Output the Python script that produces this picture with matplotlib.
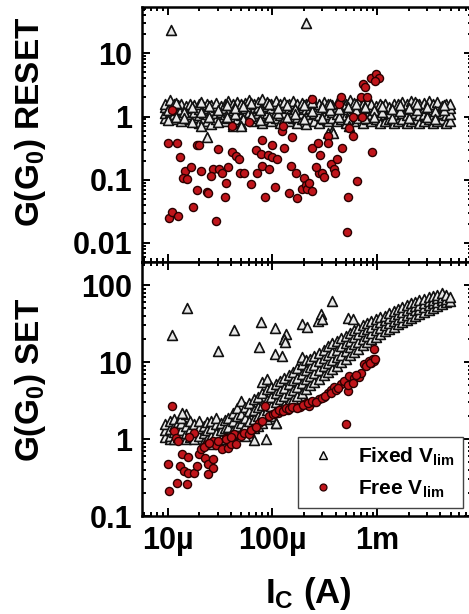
import numpy as np
import matplotlib
matplotlib.use("Agg")
import matplotlib.pyplot as plt
from matplotlib.lines import Line2D

# ── data (A, G0) ──────────────────────────────────────────────────────────
# RESET, fixed V_lim: dense band, listed column by column
RESET_FIXED_BAND = [
    (9.5e-6, [0.95, 1.15, 1.4, 1.6]), (1.05e-5, [1.0, 1.2, 1.45, 1.8]),
    (1.15e-5, [0.9, 1.1, 1.3, 1.55]), (1.25e-5, [1.0, 1.25, 1.5]),
    (1.35e-5, [0.85, 1.05, 1.3, 1.6]), (1.5e-5, [0.95, 1.2, 1.45]),
    (1.65e-5, [0.9, 1.1, 1.35, 1.6]), (1.8e-5, [1.0, 1.2, 1.5]),
    (2.0e-5, [0.8, 1.05, 1.3, 1.55]), (2.2e-5, [0.95, 1.15, 1.4]),
    (2.4e-5, [0.85, 1.1, 1.35, 1.6]), (2.6e-5, [0.75, 1.0, 1.25, 1.5]),
    (2.9e-5, [0.9, 1.15, 1.4, 1.65]), (3.2e-5, [1.0, 1.2, 1.45]),
    (3.5e-5, [0.85, 1.1, 1.35, 1.6]), (3.8e-5, [0.95, 1.2, 1.5, 1.75]),
    (4.2e-5, [0.75, 1.0, 1.25, 1.55]), (4.6e-5, [0.9, 1.15, 1.4, 1.7]),
    (5.0e-5, [0.75, 1.05, 1.3, 1.6]), (5.5e-5, [0.9, 1.1, 1.35, 1.65]),
    (6.0e-5, [0.95, 1.2, 1.45, 1.8]), (6.6e-5, [0.85, 1.1, 1.35, 1.6]),
    (7.3e-5, [0.95, 1.15, 1.4, 1.7]), (8.0e-5, [0.8, 1.05, 1.3, 1.9]),
    (8.8e-5, [0.9, 1.15, 1.45, 1.7]), (9.7e-5, [0.85, 1.1, 1.35, 1.6]),
    (1.07e-4, [0.95, 1.2, 1.5, 1.75]), (1.18e-4, [0.8, 1.05, 1.3, 1.55]),
    (1.3e-4, [0.9, 1.15, 1.4, 1.7]), (1.43e-4, [0.85, 1.1, 1.35, 1.6]),
    (1.57e-4, [0.95, 1.2, 1.45, 1.75]), (1.73e-4, [0.8, 1.0, 1.3, 1.55]),
    (1.9e-4, [0.9, 1.15, 1.4, 1.65]), (2.1e-4, [0.75, 1.05, 1.3, 1.6]),
    (2.3e-4, [0.9, 1.1, 1.35, 1.8]), (2.5e-4, [0.85, 1.15, 1.4, 1.65]),
    (2.8e-4, [0.8, 1.05, 1.3, 1.55]), (3.1e-4, [0.9, 1.15, 1.45, 1.7]),
    (3.4e-4, [0.85, 1.1, 1.35, 1.6]), (3.7e-4, [0.6, 0.95, 1.2, 1.5]),
    (4.1e-4, [0.85, 1.1, 1.4, 1.65]), (4.5e-4, [0.9, 1.15, 1.45, 1.75]),
    (5.0e-4, [0.8, 1.05, 1.3, 1.6]), (5.5e-4, [0.9, 1.2, 1.5, 1.8]),
    (6.0e-4, [0.85, 1.1, 1.35, 1.65]), (6.6e-4, [0.95, 1.2, 1.45, 1.7]),
    (7.3e-4, [0.8, 1.05, 1.3, 1.6]), (8.0e-4, [0.9, 1.15, 1.4, 1.7]),
    (8.8e-4, [0.85, 1.1, 1.35, 1.6]), (9.7e-4, [0.9, 1.2, 1.45]),
    (1.07e-3, [0.8, 1.05, 1.3, 1.55]), (1.18e-3, [0.85, 1.1, 1.35, 1.6]),
    (1.3e-3, [0.9, 1.15, 1.4]), (1.43e-3, [0.8, 1.05, 1.3, 1.55]),
    (1.57e-3, [0.85, 1.1, 1.35, 1.6]), (1.73e-3, [0.9, 1.15, 1.45, 1.7]),
    (1.9e-3, [0.8, 1.05, 1.3, 1.6]), (2.1e-3, [0.85, 1.1, 1.4, 1.75]),
    (2.3e-3, [0.9, 1.15, 1.45, 1.7]), (2.5e-3, [0.8, 1.05, 1.3, 1.6]),
    (2.8e-3, [0.85, 1.1, 1.35, 1.65]), (3.1e-3, [0.9, 1.2, 1.45, 1.75]),
    (3.4e-3, [0.8, 1.05, 1.3, 1.55]), (3.7e-3, [0.85, 1.1, 1.4, 1.7]),
    (4.1e-3, [0.9, 1.15, 1.45]), (4.5e-3, [0.8, 1.05, 1.3, 1.6]),
    (4.9e-3, [0.85, 1.1, 1.35, 1.55]),
]
# second, staggered set of RESET fixed-V_lim columns
RESET_FIXED_BAND_B = [
    (1.0e-5, [1.25, 0.88]), (1.2e-5, [1.62, 1.0]), (1.42e-5, [1.18, 0.95]),
    (1.72e-5, [1.42, 0.83]), (2.1e-5, [1.2, 1.68]), (2.5e-5, [0.98, 1.45]),
    (3.05e-5, [1.28, 0.83]), (3.65e-5, [1.52, 0.98]), (4.4e-5, [1.08, 1.35]),
    (5.25e-5, [1.48, 0.92]), (6.3e-5, [1.02, 1.62]), (7.6e-5, [1.25, 0.88]),
    (9.2e-5, [1.55, 1.0]), (1.12e-4, [1.15, 1.38]), (1.37e-4, [0.98, 1.52]),
    (1.65e-4, [1.3, 1.08]), (2.0e-4, [1.5, 0.92]), (2.4e-4, [1.22, 1.72]),
    (2.95e-4, [0.95, 1.4]), (3.55e-4, [1.25, 1.55]), (4.3e-4, [1.0, 1.3]),
    (5.25e-4, [1.4, 0.92]), (6.3e-4, [1.25, 1.55]), (7.6e-4, [0.95, 1.4]),
    (9.2e-4, [1.28, 1.0]), (1.12e-3, [1.2, 1.45]), (1.37e-3, [0.95, 1.3]),
    (1.65e-3, [1.22, 1.52]), (2.0e-3, [0.95, 1.35]), (2.4e-3, [1.25, 1.58]),
    (2.95e-3, [1.0, 1.42]), (3.55e-3, [1.22, 0.92]), (4.3e-3, [1.25, 1.5]),
]
reset_fixed_extra_x = [1.07e-5, 2.1e-4, 2.4e-5, 2.1e-5, 4.2e-5, 5.0e-5, 3.4e-4, 3.8e-4, 5.4e-4]
reset_fixed_extra_y = [23, 30, 0.48, 0.7, 0.7, 0.7, 0.55, 0.55, 0.7]

reset_free_x = [1.1e-5, 1.0e-5, 1.22e-5, 1.3e-5, 1.48e-5, 1.39e-5, 1.52e-5, 1.69e-5,
                1.04e-5, 1.09e-5, 1.25e-5, 1.73e-5, 1.89e-5, 1.89e-5, 2.0e-5, 2.1e-5,
                2.35e-5, 2.45e-5, 2.7e-5, 2.6e-5, 2.9e-5, 3.0e-5, 3.1e-5, 3.3e-5,
                3.5e-5, 3.6e-5, 3.8e-5, 4.1e-5, 4.15e-5, 4.5e-5, 4.75e-5, 4.85e-5,
                5.4e-5, 6.3e-5, 6.0e-5, 7.0e-5, 7.2e-5, 7.8e-5, 8.0e-5, 8.4e-5,
                8.0e-5, 9.0e-5, 9.2e-5, 9.8e-5, 1.0e-4, 1.05e-4, 1.1e-4, 1.22e-4,
                1.25e-4, 1.3e-4, 1.45e-4, 1.5e-4, 1.55e-4, 1.67e-4, 1.72e-4, 1.9e-4,
                2.0e-4, 2.1e-4, 2.15e-4, 2.25e-4, 2.4e-4, 2.4e-4, 2.4e-4, 2.7e-4,
                2.85e-4, 2.75e-4, 3.0e-4, 3.35e-4, 3.35e-4, 3.6e-4, 3.9e-4, 3.95e-4,
                4.15e-4, 4.3e-4, 4.5e-4, 4.6e-4, 5.1e-4, 5.2e-4, 5.4e-4, 5.8e-4,
                5.8e-4, 6.4e-4, 7.0e-4, 7.2e-4, 7.3e-4, 7.6e-4, 8.0e-4, 8.7e-4,
                8.9e-4, 9.8e-4, 1.04e-3, 9.6e-4, 2.6e-4, 3.1e-4]
reset_free_y = [1.29, 0.376, 0.376, 0.226, 0.136, 0.106, 0.102, 0.158,
                0.0247, 0.031, 0.027, 0.037, 0.068, 0.36, 0.36, 0.136,
                0.063, 0.061, 0.15, 0.113, 0.022, 0.31, 0.15, 0.126,
                0.053, 0.088, 0.158, 0.70, 0.27, 0.235, 0.21, 0.13,
                0.126, 0.085, 0.83, 0.30, 0.126, 0.26, 0.163, 0.053,
                0.43, 0.25, 0.146, 0.35, 0.226, 0.076, 0.21, 0.60,
                0.70, 0.32, 0.061, 0.163, 0.47, 0.126, 0.051, 0.071,
                0.106, 0.082, 0.071, 0.088, 0.066, 0.32, 1.9, 0.376,
                0.25, 0.126, 0.126, 0.50, 0.376, 0.18, 0.15, 0.126,
                0.21, 1.6, 2.0, 0.32, 0.015, 0.053, 0.65, 0.50,
                1.0, 0.095, 2.0, 1.0, 3.3, 2.9, 2.0, 4.1,
                0.27, 4.7, 4.1, 3.7, 0.16, 0.11]

# SET, fixed V_lim: band rising with I_C, listed column by column
SET_FIXED_BAND = [
    (9.5e-6, [1.05, 1.3, 1.55]), (1.05e-5, [1.0, 1.1, 1.35, 1.7]),
    (1.15e-5, [1.0, 1.25, 1.5, 1.8]), (1.25e-5, [1.05, 1.4, 1.65]),
    (1.35e-5, [1.1, 1.3, 1.6, 1.9]), (1.5e-5, [1.0, 1.2, 1.5, 2.1]),
    (1.65e-5, [1.05, 1.35, 1.7]), (1.8e-5, [1.0, 1.25, 1.55]),
    (2.0e-5, [1.1, 1.4, 1.7]), (2.2e-5, [0.95, 1.2, 1.5]),
    (2.4e-5, [1.0, 1.3, 1.65]), (2.6e-5, [0.85, 1.1, 1.4, 1.7]),
    (2.9e-5, [0.95, 1.2, 1.55, 1.85]), (3.2e-5, [1.0, 1.3, 1.6]),
    (3.5e-5, [1.05, 1.4, 1.75]), (3.8e-5, [1.1, 1.45, 1.9]),
    (4.2e-5, [1.0, 1.3, 1.7, 2.2]), (4.6e-5, [1.15, 1.5, 2.0, 2.5]),
    (5.0e-5, [1.2, 1.6, 2.1, 3.1]), (5.5e-5, [1.1, 1.5, 1.9, 2.6]),
    (6.0e-5, [1.3, 1.7, 2.3, 2.9]), (6.6e-5, [1.4, 1.8, 2.4, 3.3]),
    (7.3e-5, [1.5, 2.0, 2.6, 3.5]), (8.0e-5, [1.6, 2.1, 2.8, 4.0, 5.5]),
    (8.8e-5, [1.8, 2.4, 3.2, 4.5, 6.0]), (9.7e-5, [2.0, 2.7, 3.5, 4.8]),
    (1.07e-4, [1.6, 2.3, 3.0, 4.0, 5.2]), (1.18e-4, [2.5, 3.3, 4.3, 5.6]),
    (1.3e-4, [2.8, 3.6, 4.6, 6.2]), (1.43e-4, [3.0, 4.0, 5.2, 6.8]),
    (1.57e-4, [3.3, 4.4, 5.8, 7.5]), (1.73e-4, [3.6, 4.8, 6.3, 8.5]),
    (1.9e-4, [4.0, 5.3, 7.0, 9.5, 11.5]), (2.1e-4, [4.5, 6.0, 7.8, 10.5]),
    (2.3e-4, [5.0, 6.6, 8.6, 11]), (2.5e-4, [5.5, 7.2, 9.3, 12]),
    (2.8e-4, [6.0, 8.0, 10.2, 13]), (3.1e-4, [6.8, 8.8, 11.2, 14.5]),
    (3.4e-4, [7.5, 9.7, 12.3, 16]), (3.7e-4, [8.2, 10.5, 13.5, 17.5]),
    (4.1e-4, [9.0, 11.5, 14.5, 19]), (4.5e-4, [10, 12.5, 16, 20.5]),
    (5.0e-4, [11, 14, 17.5, 22]), (5.5e-4, [12.5, 15.5, 19, 24]),
    (6.0e-4, [13.5, 17, 21, 26]), (6.6e-4, [15, 18.5, 23, 28]),
    (7.3e-4, [16.5, 20, 25, 30]), (8.0e-4, [18, 22, 27, 32]),
    (8.8e-4, [20, 24, 29, 34]), (9.7e-4, [21, 26, 31, 36]),
    (1.07e-3, [23, 28, 33, 38]), (1.18e-3, [25, 30, 35, 40]),
    (1.3e-3, [27, 32, 37, 43]), (1.43e-3, [29, 34, 40, 46]),
    (1.57e-3, [31, 36, 42, 49]), (1.73e-3, [33, 39, 45, 52]),
    (1.9e-3, [35, 41, 48, 55]), (2.1e-3, [37, 44, 51, 58]),
    (2.3e-3, [40, 47, 54, 61]), (2.5e-3, [42, 49, 56, 64]),
    (2.8e-3, [45, 52, 59, 67]), (3.1e-3, [48, 55, 62, 70]),
    (3.4e-3, [51, 58, 65, 72]), (3.7e-3, [54, 61, 68, 75]),
    (4.1e-3, [57, 64, 71, 78]), (4.5e-3, [60, 67, 74]),
    (4.9e-3, [62, 70]),
]
set_fixed_extra_x = [1.09e-5, 1.52e-5, 3.0e-5, 4.3e-5, 7.7e-5, 7.5e-5, 1.05e-4, 1.05e-4,
                     1.22e-4, 1.35e-4, 1.3e-4, 1.33e-4, 1.9e-4, 2.15e-4, 2.7e-4, 2.9e-4,
                     2.95e-4, 3.7e-4, 5.2e-4, 5.8e-4, 6.7e-5, 8.6e-5, 1.07e-4, 1.36e-5]
set_fixed_extra_y = [22.4, 50, 14, 26, 33, 15.6, 27.6, 12.7,
                     12, 23, 20, 18, 31, 28.5, 34, 42,
                     36, 63, 37, 36, 0.98, 1.0, 1.6, 2.2]

set_free_x = [1.1e-5, 1.02e-5, 1.04e-5, 1.22e-5, 1.52e-5, 1.14e-5, 1.2e-5, 1.77e-5,
              1.36e-5, 1.58e-5, 1.3e-5, 1.42e-5, 1.58e-5, 1.77e-5, 1.89e-5, 1.98e-5,
              2.1e-5, 2.25e-5, 2.45e-5, 2.74e-5, 2.45e-5, 2.74e-5, 2.35e-5, 2.74e-5,
              2.9e-5, 3.27e-5, 3.6e-5, 3.8e-5, 4.0e-5, 4.5e-5, 4.3e-5, 5.0e-5,
              5.4e-5, 6.0e-5, 6.7e-5, 7.5e-5, 8.4e-5, 8.0e-5, 9.2e-5, 1.02e-4,
              1.12e-4, 1.22e-4, 1.4e-4, 1.62e-4, 1.85e-4, 2.1e-4, 2.25e-4, 2.5e-4,
              2.8e-4, 3.1e-4, 3.4e-4, 3.65e-4, 3.9e-4, 4.5e-4, 4.8e-4, 5.3e-4,
              5.0e-4, 5.4e-4, 6.0e-4, 6.7e-4, 7.0e-4, 7.5e-4, 8.3e-4, 8.8e-4,
              9.4e-4, 9.0e-4, 9.2e-4, 1.05e-4, 1.15e-4, 1.25e-4, 1.35e-4, 1.45e-4,
              1.55e-4, 1.7e-4, 1.95e-4, 2.2e-4, 2.4e-4, 2.6e-4, 3.0e-4, 3.2e-4,
              3.6e-4, 4.0e-4, 4.2e-4, 5.2e-4, 5.8e-4, 6.2e-4, 7.8e-4, 8.6e-4,
              9.6e-4, 2.2e-5, 2.5e-5, 3.0e-5, 3.6e-5, 4.0e-5, 6.2e-5, 7.0e-5,
              1.6e-5, 1.25e-5]
set_free_y = [2.7, 0.47, 0.21, 0.27, 0.26, 1.27, 1.03, 1.2,
              0.64, 0.58, 0.45, 0.38, 0.36, 0.36, 0.45, 0.64,
              0.74, 0.57, 0.47, 0.42, 0.35, 0.55, 0.86, 0.94,
              0.84, 0.74, 1.03, 0.76, 0.86, 0.86, 1.16, 1.1,
              1.2, 1.15, 1.39, 1.6, 2.7, 1.7, 2.0, 2.1,
              2.15, 2.3, 2.4, 2.6, 2.6, 2.9, 2.7, 3.0,
              3.3, 3.5, 3.95, 4.4, 4.7, 5.2, 5.6, 4.2,
              1.56, 6.6, 6.2, 6.4, 7.3, 9.4, 10.3, 9.6,
              15, 11, 10.2, 2.2, 2.4, 2.3, 2.5, 2.45,
              2.6, 2.55, 2.75, 2.9, 3.1, 3.0, 3.4, 3.6,
              4.0, 4.3, 4.6, 5.0, 5.4, 6.8, 8.8, 9.8,
              11, 0.8, 0.9, 0.95, 1.0, 1.05, 1.3, 1.45,
              1.05, 0.95]

XTICKS = [1e-5, 1e-4, 1e-3]
XTICKLABELS = ["10µ", "100µ", "1m"]
RESET_TICKS = [0.01, 0.1, 1, 10]
RESET_LABELS = ["0.01", "0.1", "1", "10"]
SET_TICKS = [0.1, 1, 10, 100]
SET_LABELS = ["0.1", "1", "10", "100"]


def flatten(band):
    xs, ys = [], []
    for x, col in band:
        xs += [x] * len(col)
        ys += col
    return xs, ys


# ── style ─────────────────────────────────────────────────────────────────
plt.rcParams.update({
    "font.family": ["Liberation Sans", "DejaVu Sans"],
    "font.weight": "bold",
    "mathtext.fontset": "custom",
    "mathtext.rm": "Liberation Sans:bold",
    "mathtext.bf": "Liberation Sans:bold",
    "mathtext.it": "Liberation Sans:bold",
    "axes.linewidth": 1.8,
})

TRI = dict(marker="^", s=50, facecolor="#e8e8e8", edgecolor="#111111", linewidths=1.2, zorder=2)
DOT = dict(marker="o", s=34, facecolor="#c0151b", edgecolor="#2a0000", linewidths=1.0, zorder=3)

fig = plt.figure(figsize=(4.69, 6.14), dpi=100)
W, H = 469, 614
ax1 = fig.add_axes([142 / W, 1 - 262 / H, 330 / W, 255 / H])
ax2 = fig.add_axes([142 / W, 1 - 516 / H, 330 / W, 254 / H])

# RESET panel
bx, by = flatten(RESET_FIXED_BAND + RESET_FIXED_BAND_B)
ax1.scatter(bx + reset_fixed_extra_x, by + reset_fixed_extra_y, **TRI)
ax1.scatter(reset_free_x, reset_free_y, **DOT)

# SET panel
bx, by = flatten(SET_FIXED_BAND)
ax2.scatter(bx + set_fixed_extra_x, by + set_fixed_extra_y, **TRI)
ax2.scatter(set_free_x, set_free_y, **DOT)

for ax in (ax1, ax2):
    ax.set_xscale("log")
    ax.set_yscale("log")
    ax.set_xlim(5.7e-6, 8e-3)
    ax.tick_params(which="both", direction="in", top=True, right=True,
                   labelsize=22, width=1.4)
    ax.tick_params(which="major", length=6, pad=7)
    ax.tick_params(which="minor", length=3)
    ax.set_xticks(XTICKS, XTICKLABELS)

ax1.set_ylim(0.005, 54)
ax1.set_yticks(RESET_TICKS, RESET_LABELS)
ax1.tick_params(labelbottom=False)
ax2.set_ylim(0.1, 200)
ax2.set_yticks(SET_TICKS, SET_LABELS)

fig.text(30 / W, 1 - 122 / H, r"G(G$_{\mathbf{0}}$) RESET", rotation=90,
         ha="center", va="center", fontsize=24, fontweight="bold")
fig.text(30 / W, 1 - 380 / H, r"G(G$_{\mathbf{0}}$) SET", rotation=90,
         ha="center", va="center", fontsize=24, fontweight="bold")
fig.text(308 / W, 1 - 593 / H, r"I$_{\mathbf{C}}$ (A)", ha="center", va="center",
         fontsize=25, fontweight="bold")

handles = [
    Line2D([0], [0], ls="none", marker="^", ms=6, mfc="#e8e8e8", mec="black", mew=1.0),
    Line2D([0], [0], ls="none", marker="o", ms=5, mfc="#c0151b", mec="#2a0000", mew=0.9),
]
leg = ax2.legend(handles, [r"Fixed V$_{\mathbf{lim}}$", r"Free V$_{\mathbf{lim}}$"],
                 loc="lower right", bbox_to_anchor=(0.973, 0.031), borderaxespad=0,
                 fontsize=15, fancybox=False, framealpha=1, edgecolor="#444444",
                 handletextpad=0.9, handlelength=1.6, labelspacing=0.5,
                 borderpad=0.4)
leg.get_frame().set_linewidth(1.0)

fig.savefig("out.png", dpi=100)
